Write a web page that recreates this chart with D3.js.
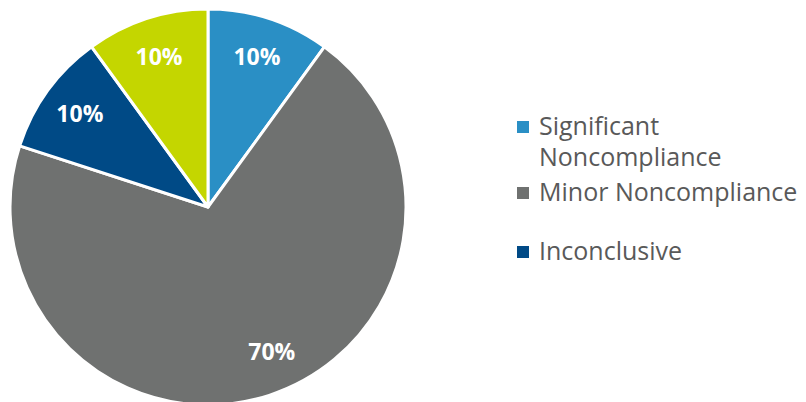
<!DOCTYPE html>
<html>
<head>
<meta charset="utf-8">
<script src="https://cdn.jsdelivr.net/npm/d3@7"></script>
<style>
  html, body { margin: 0; padding: 0; background: #fff; }
  svg { display: block; }
</style>
</head>
<body>
<svg id="chart" width="806" height="402"></svg>
<script>
// Compliance outcome shares (percent)
const categories = ["Significant Noncompliance", "Minor Noncompliance", "Inconclusive", "Compliant"];
const values = [10, 70, 10, 10];
const colors = ["#2a8fc5", "#6f7170", "#004a86", "#c4d600"];
// Legend lines (the legend lists the first three categories)
const legendLines = [["Significant", "Noncompliance"], ["Minor Noncompliance"], ["Inconclusive"]];

const svg = d3.select("#chart");
const cx = 208, cy = 207, r = 198;

const pie = d3.pie().sort(null).value(d => d.value);
const arcs = pie(categories.map((c, i) => ({ name: c, value: values[i], color: colors[i] })));
const arc = d3.arc().innerRadius(0).outerRadius(r);

const g = svg.append("g").attr("transform", `translate(${cx},${cy})`);
g.selectAll("path").data(arcs).join("path")
  .attr("d", arc)
  .attr("fill", d => d.data.color)
  .attr("stroke", "#fff")
  .attr("stroke-width", 3)
  .attr("stroke-linejoin", "round");

// Percent labels sit at ~0.8 r; the large slice's label is pulled a little toward its start
const labelR = r * 0.8;
const labelPos = d => {
  const mid = (d.startAngle + d.endAngle) / 2 - (d.data.value > 50 ? 0.1 : 0);
  return [labelR * Math.sin(mid), -labelR * Math.cos(mid)];
};
g.selectAll("text").data(arcs).join("text")
  .attr("transform", d => `translate(${labelPos(d)})`)
  .attr("text-anchor", "middle")
  .attr("dy", "0.36em")
  .attr("fill", "#fff")
  .attr("font-family", "'Open Sans', sans-serif")
  .attr("font-weight", 700)
  .attr("font-size", 23)
  .text(d => d3.format(".0%")(d.data.value / 100));

// Legend
const lineH = 31;
const legendBase = [135, 201, 260];
const lg = svg.append("g").attr("font-family", "'Open Sans', sans-serif").attr("font-size", 25).attr("fill", "#595959");
legendLines.forEach((lines, i) => {
  const y0 = legendBase[i];
  lg.append("rect").attr("x", 517).attr("y", y0 - 14).attr("width", 12).attr("height", 12).attr("fill", colors[i]);
  const t = lg.append("text").attr("x", 539).attr("y", y0);
  lines.forEach((s, j) => t.append("tspan").attr("x", 539).attr("y", y0 + j * lineH).text(s));
});
</script>
</body>
</html>
